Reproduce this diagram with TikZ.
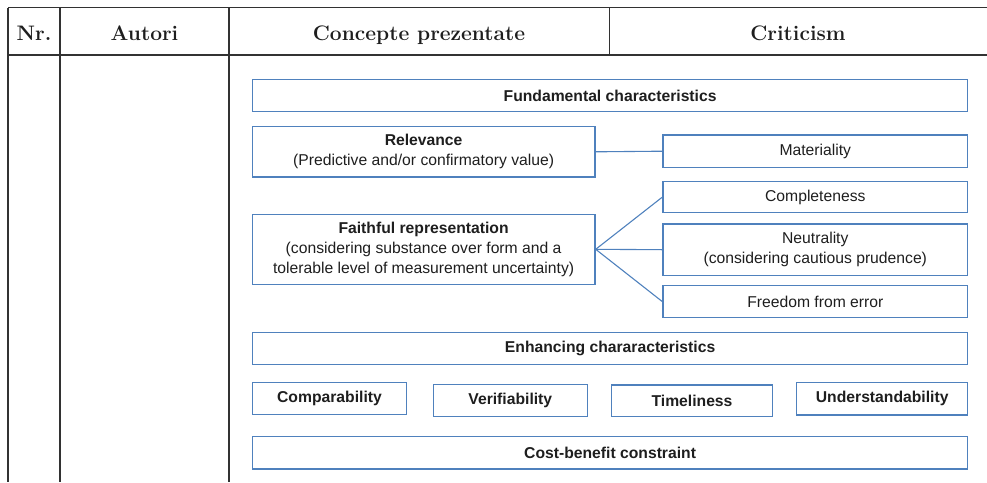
\documentclass[tikz,border=0pt]{standalone}
\usepackage{fontspec}
\newfontfamily\diagfont{Liberation Sans}
\definecolor{boxblue}{RGB}{79,129,189}
\definecolor{gridgray}{RGB}{50,50,50}
\definecolor{inkgray}{RGB}{30,30,30}
\begin{document}
\begin{tikzpicture}[
  x=1pt, y=-1pt,
  grid/.style={draw=gridgray, line width=1.6pt},
  headtext/.style={anchor=base, text=inkgray, font=\fontsize{21}{25}\selectfont\bfseries},
  box/.style={draw=boxblue, line width=1.5pt, inner sep=0pt, align=center,
              text=inkgray, font=\diagfont\fontsize{15.7}{20}\selectfont},
  link/.style={draw=boxblue, line width=1.1pt}
]
\useasboundingbox (0,0) rectangle (987,482);

% table frame
\draw[grid] (8,7.5) -- (987,7.5);
\draw[grid] (8,55) -- (987,55);
\draw[grid] (8,7.5) -- (8,482);
\draw[grid] (60,7.5) -- (60,482);
\draw[grid] (229,7.5) -- (229,482);
\draw[grid] (609.3,7.5) -- (609.3,55);

% header row
\node[headtext] (hnr)   at (34,40.7)    {Nr.};
\node[headtext] (haut)  at (144.5,40.7) {Autori};
\node[headtext] (hcon)  at (419,40.7)   {Concepte prezentate};
\node[headtext] (hcrit) at (798,40.7)   {Criticism};

% fundamental characteristics
\node[box, minimum width=715.2pt, minimum height=32.2pt] (fund) at (610.1,95.6)
  {\bfseries Fundamental characteristics};
\node[box, minimum width=342.7pt, minimum height=50.3pt] (rel) at (423.6,151.8)
  {{\bfseries Relevance}\\(Predictive and/or confirmatory value)};
\node[box, minimum width=342.7pt, minimum height=70pt] (faith) at (423.6,249.3)
  {{\bfseries Faithful representation}\\(considering substance over form and a\\tolerable level of measurement uncertainty)};

\node[box, minimum width=304.7pt, minimum height=32.3pt] (mat)  at (815.3,151.2) {Materiality};
\node[box, minimum width=304.7pt, minimum height=31pt]   (comp) at (815.3,197.2) {Completeness};
\node[box, minimum width=304.7pt, minimum height=51.3pt] (neut) at (815.3,249.7)
  {Neutrality\\(considering cautious prudence)};
\node[box, minimum width=304.7pt, minimum height=31.6pt] (free) at (815.3,301.5) {Freedom from error};

\draw[link] (rel.east) -- (mat.west);
\draw[link] (faith.east) -- (comp.west);
\draw[link] (faith.east) -- (neut.west);
\draw[link] (faith.east) -- (free.west);

% enhancing characteristics
\node[box, minimum width=715.2pt, minimum height=32pt] (enh) at (610.1,348.3)
  {\bfseries Enhancing chararacteristics};
\node[box, minimum width=154.4pt, minimum height=32pt]   (compar) at (329.5,398.3) {\bfseries Comparability};
\node[box, minimum width=154pt,   minimum height=32.4pt] (verif)  at (510.3,400.5) {\bfseries Verifiability};
\node[box, minimum width=160.6pt, minimum height=31.7pt] (timel)  at (692,400.8)   {\bfseries Timeliness};
\node[box, minimum width=171pt,   minimum height=32.3pt] (under)  at (882.2,398.8) {\bfseries Understandability};

\node[box, minimum width=715.2pt, minimum height=32.3pt] (cost) at (610.1,452.8)
  {\bfseries Cost-benefit constraint};
\end{tikzpicture}
\end{document}
